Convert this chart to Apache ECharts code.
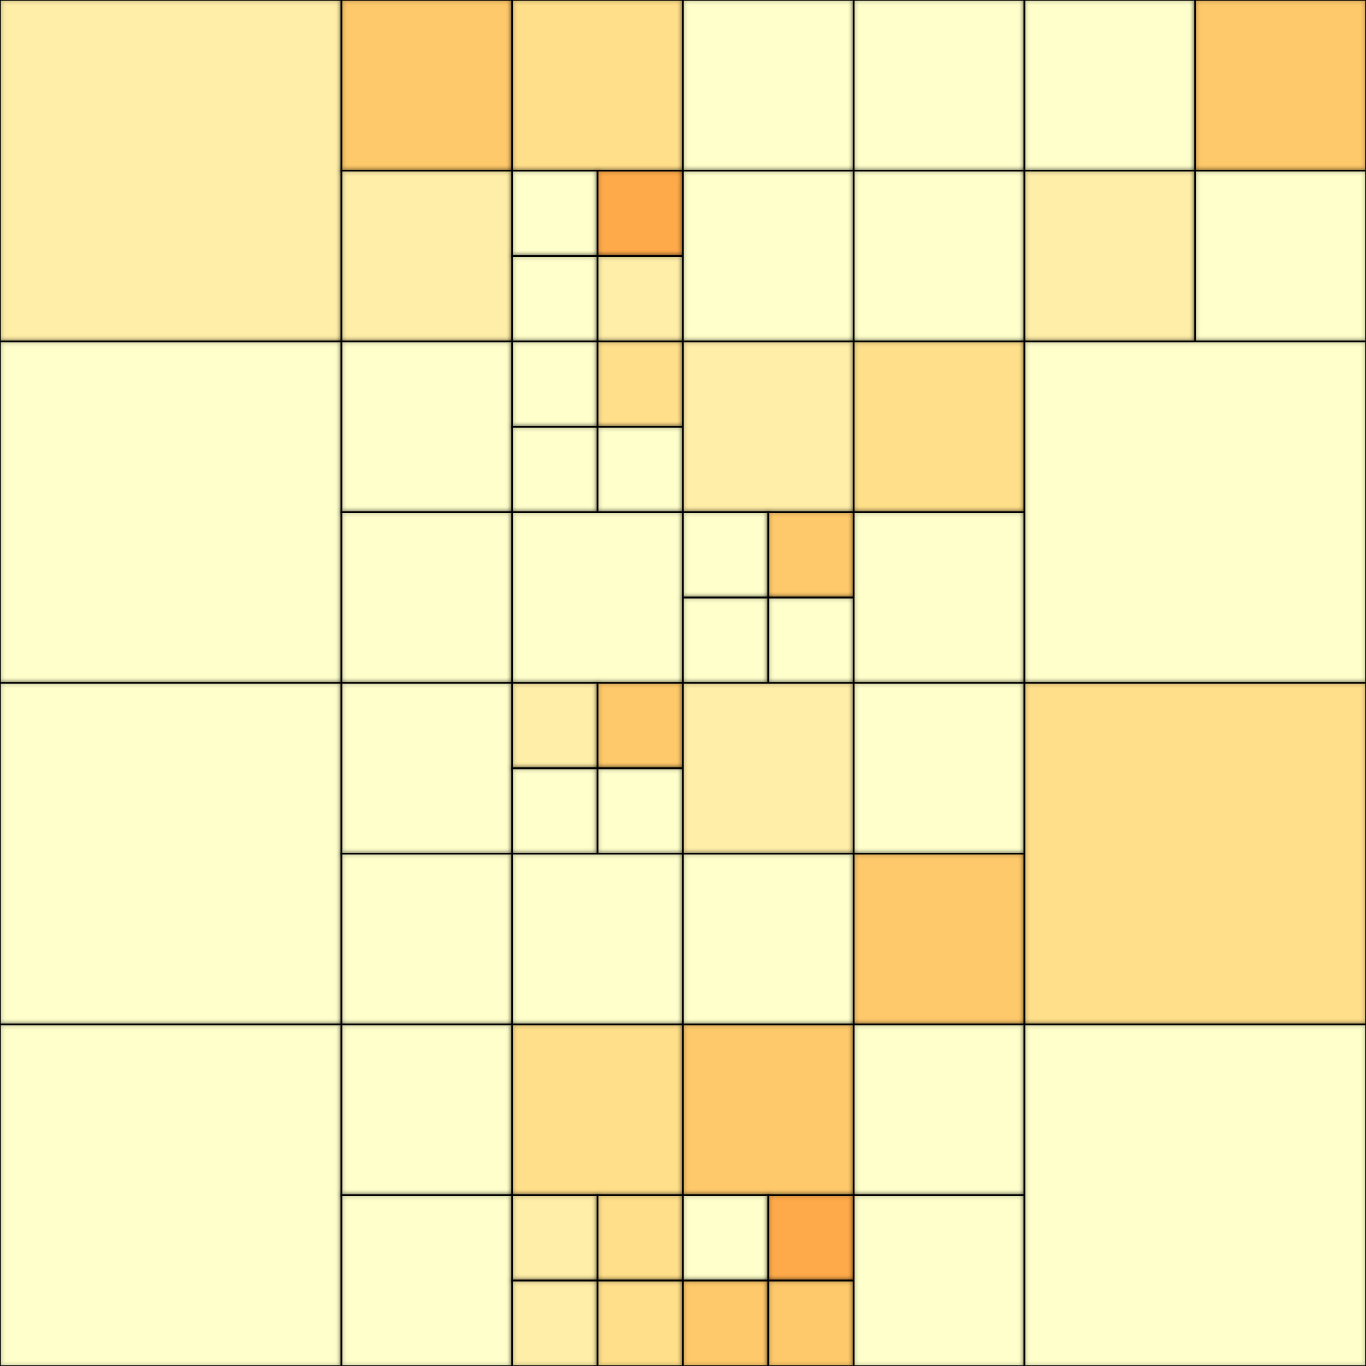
<!DOCTYPE html>
<html>
<head>
<meta charset="utf-8">
<script src="https://cdn.jsdelivr.net/npm/echarts@6/dist/echarts.min.js"></script>
<style>html,body{margin:0;padding:0;background:#fff}#c{width:1366px;height:1366px}</style>
</head>
<body>
<div id="c"></div>
<script>
// Quadtree cells in a 16x16 unit space: left, top, size, colour level
const cellX = [0,4,6,4,6,7,6,7,0,4,6,7,6,7,4,6,
  8,10,8,10,12,14,12,14,8,10,8,9,8,9,10,12,
  0,4,6,7,6,7,4,6,0,4,6,4,6,7,6,7,
  8,10,8,10,12,8,10,8,9,8,9,10,12];
const cellY = [0,0,0,2,2,2,3,3,4,4,4,4,5,5,6,6,
  0,0,2,2,0,0,2,2,4,4,6,6,7,7,6,4,
  8,8,8,8,9,9,10,10,12,12,12,14,14,14,15,15,
  8,8,10,10,8,12,12,14,14,15,15,14,12];
const cellSize = [4,2,2,2,1,1,1,1,4,2,1,1,1,1,2,2,
  2,2,2,2,2,2,2,2,2,2,1,1,1,1,2,4,
  4,2,1,1,1,1,2,2,4,2,2,2,1,1,1,1,
  2,2,2,2,4,2,2,1,1,1,1,2,4];
const cellLevel = [1,3,2,1,0,4,0,1,0,0,0,2,0,0,0,0,
  0,0,0,0,0,3,1,0,1,2,0,3,0,0,0,0,
  0,0,1,3,0,0,0,0,0,0,2,0,1,2,1,2,
  1,0,0,3,2,3,0,0,4,3,3,0,0];
const levelColors = ['#ffffcc','#ffeea8','#ffdf8a','#fec96a','#feaa4a'];

const data = cellX.map((x, i) => [x, cellY[i], cellSize[i], cellLevel[i]]);

const chart = echarts.init(document.getElementById('c'));
chart.setOption({
  animation: false,
  grid: {left: 0, right: 0, top: 0, bottom: 0},
  xAxis: {type: 'value', min: 0, max: 16, show: false},
  yAxis: {type: 'value', min: 0, max: 16, inverse: true, show: false},
  series: [{
    type: 'custom',
    data: data,
    renderItem: function (params, api) {
      const x = api.value(0), y = api.value(1), s = api.value(2), lv = api.value(3);
      const p0 = api.coord([x, y]);
      const p1 = api.coord([x + s, y + s]);
      return {
        type: 'rect',
        shape: {x: Math.min(p0[0], p1[0]), y: Math.min(p0[1], p1[1]),
                width: Math.abs(p1[0] - p0[0]), height: Math.abs(p1[1] - p0[1])},
        style: {fill: levelColors[lv], stroke: '#000', lineWidth: 1.6,
                shadowBlur: 4, shadowColor: 'rgba(0,0,0,0.5)'}
      };
    }
  }]
});
</script>
</body>
</html>
